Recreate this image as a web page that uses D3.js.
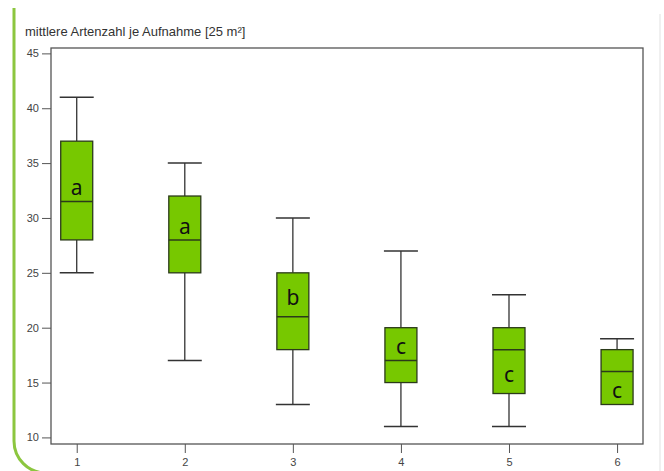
<!DOCTYPE html>
<html><head><meta charset="utf-8">
<script src="https://cdn.jsdelivr.net/npm/d3@7/dist/d3.min.js"></script>
<style>body{margin:0;background:#fff}svg{display:block}</style>
</head><body>
<script>
const categories = ["1","2","3","4","5","6"];
const whiskerLow  = [25, 17, 13, 11, 11, 13];
const q1          = [28, 25, 18, 15, 14, 13];
const median      = [31.5, 28, 21, 17, 18, 16];
const q3          = [37, 32, 25, 20, 20, 18];
const whiskerHigh = [41, 35, 30, 27, 23, 19];
const groupLetters = ["a","a","b","c","c","c"];
const letterAt    = [32.8, 29.3, 22.8, 18.3, 15.8, 14.3];
const yTicks = [10, 15, 20, 25, 30, 35, 40, 45];
const chartTitle = "mittlere Artenzahl je Aufnahme [25 m²]";

(function(){
const W = 664, H = 471;
const svg = d3.select("body").append("svg").attr("width", W).attr("height", H);

// decorative green frame (left edge with rounded bottom corner)
const r = 32, bx = 14, by = 473;
svg.append("path")
  .attr("d", `M${bx},8 V${by - r} A${r},${r} 0 0 0 ${bx + r},${by} H${W + 10}`)
  .attr("fill", "none").attr("stroke", "#8cc63f").attr("stroke-width", 3);
svg.append("line").attr("x1", 660).attr("x2", 660).attr("y1", 14).attr("y2", 471)
  .attr("stroke", "#f0f0f0").attr("stroke-width", 2);

const pL = 51, pR = 643, pT = 48, pB = 444;
const x = d3.scaleLinear().domain([0.762, 6.24]).range([pL, pR]);
const y = d3.scaleLinear().domain([9.4, 45.49]).range([pB, pT]);

// axes
const yAxis = d3.axisLeft(y).tickValues(yTicks).tickSize(9).tickPadding(3);
const gy = svg.append("g").attr("transform", `translate(${pL},0)`).call(yAxis);
const xAxis = d3.axisBottom(x).tickValues(d3.range(1, 7)).tickFormat((d,i)=>categories[i]).tickSize(9).tickPadding(5);
const gx = svg.append("g").attr("transform", `translate(0,${pB})`).call(xAxis);
[gy, gx].forEach(g => {
  g.select(".domain").remove();
  g.selectAll(".tick line").attr("stroke", "#555").attr("stroke-width", 1);
  g.selectAll(".tick text").attr("fill", "#444").style("font-family", "Arial, 'Liberation Sans', sans-serif").style("font-size", "11px");
});

// frame
svg.append("rect").attr("x", pL).attr("y", pT).attr("width", pR-pL).attr("height", pB-pT)
  .attr("fill", "none").attr("stroke", "#555").attr("stroke-width", 1.3);

// title
svg.append("text").attr("x", 25).attr("y", 36).text(chartTitle)
  .attr("fill", "#333").style("font-family", "Arial, 'Liberation Sans', sans-serif").style("font-size", "13px");

const bw = 32, cw = 34;
const g = svg.append("g");
categories.forEach((c, i) => {
  const cx = x(i + 1);
  const s = "#333";
  g.append("line").attr("x1", cx).attr("x2", cx).attr("y1", y(whiskerHigh[i])).attr("y2", y(q3[i])).attr("stroke", s).attr("stroke-width", 1.3);
  g.append("line").attr("x1", cx).attr("x2", cx).attr("y1", y(q1[i])).attr("y2", y(whiskerLow[i])).attr("stroke", s).attr("stroke-width", 1.3);
  g.append("line").attr("x1", cx - cw/2).attr("x2", cx + cw/2).attr("y1", y(whiskerHigh[i])).attr("y2", y(whiskerHigh[i])).attr("stroke", s).attr("stroke-width", 1.5);
  if (whiskerLow[i] < q1[i])
    g.append("line").attr("x1", cx - cw/2).attr("x2", cx + cw/2).attr("y1", y(whiskerLow[i])).attr("y2", y(whiskerLow[i])).attr("stroke", s).attr("stroke-width", 1.5);
  g.append("rect").attr("x", cx - bw/2).attr("y", y(q3[i])).attr("width", bw).attr("height", y(q1[i]) - y(q3[i]))
    .attr("fill", "#77c800").attr("stroke", "#2b3a1a").attr("stroke-width", 1.3);
  g.append("line").attr("x1", cx - bw/2).attr("x2", cx + bw/2).attr("y1", y(median[i])).attr("y2", y(median[i])).attr("stroke", "#2b3a1a").attr("stroke-width", 1.5);
  g.append("text").attr("x", cx).attr("y", y(letterAt[i])).attr("text-anchor", "middle").attr("dominant-baseline", "central")
    .text(groupLetters[i]).attr("fill", "#111").style("font-family", "'Noto Sans', 'Open Sans', sans-serif").style("font-size", "21px");
});
})();
</script>
</body></html>
